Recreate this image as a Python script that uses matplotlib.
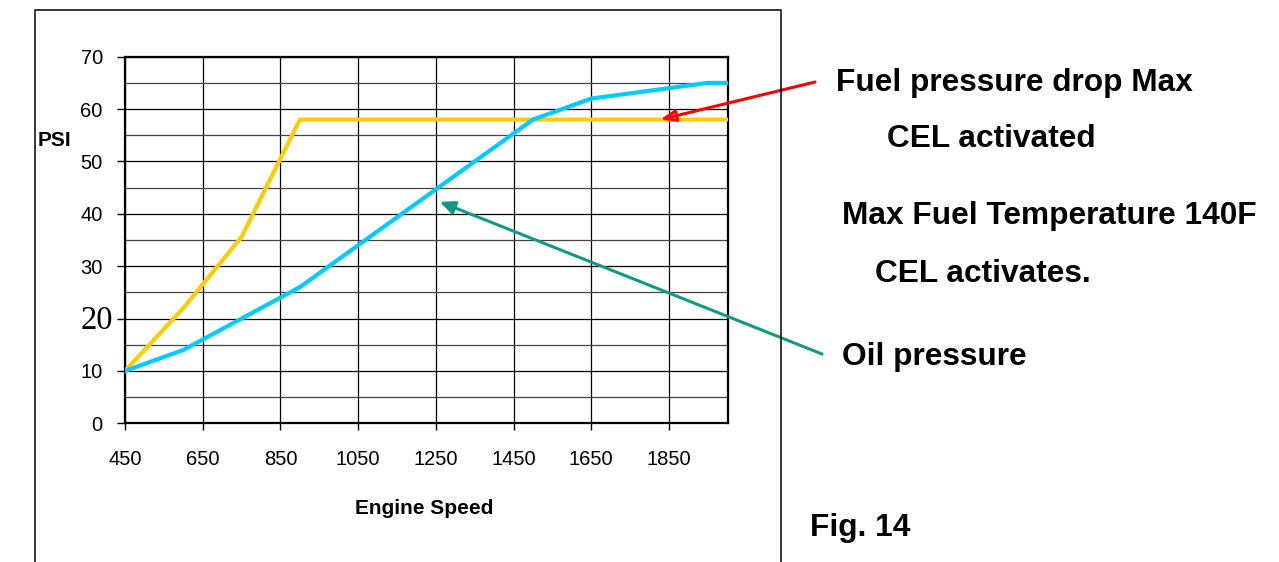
import matplotlib
matplotlib.use("Agg")
import matplotlib.pyplot as plt
from matplotlib.lines import Line2D
from matplotlib.ticker import MultipleLocator

# ---- data ----
fuel_rpm = [450, 600, 750, 900, 2000]
fuel_psi = [10, 22, 35.6, 58, 58]
oil_rpm = [450, 600, 900, 1500, 1650, 1950, 2000]
oil_psi = [10, 14, 26, 58, 62, 65, 65]
x_ticks = [450, 650, 850, 1050, 1250, 1450, 1650, 1850]
y_ticks = [0, 10, 20, 30, 40, 50, 60, 70]
fuel_note_rpm, fuel_note_psi = 1828, 58
oil_note_rpm, oil_note_psi = 1260, 42.3

W, H = 1279, 562
fig = plt.figure(figsize=(W / 100, H / 100), dpi=100)
plt.rcParams['font.family'] = ['Liberation Sans', 'DejaVu Sans']

ax = fig.add_axes([125 / W, 1 - 423.3 / H, (728 - 125) / W, (423.3 - 56.7) / H])
ax.plot(fuel_rpm, fuel_psi, color='#FFCC00', lw=3.0, solid_joinstyle='miter', zorder=3)
ax.plot(oil_rpm, oil_psi, color='#00CCFF', lw=3.0, solid_joinstyle='miter', zorder=3)

ax.set_xlim(450, 2002)
ax.set_ylim(0, 70)
ax.set_xticks(x_ticks)
ax.set_yticks(y_ticks)
ax.yaxis.set_minor_locator(MultipleLocator(5))
ax.grid(which='major', color='black', lw=0.9)
ax.grid(which='minor', axis='y', color='#444444', lw=0.9)
ax.set_axisbelow(True)
for s in ax.spines.values():
    s.set_linewidth(1.6)
    s.set_color('black')
ax.tick_params(axis='y', which='major', length=6, width=1, pad=10, labelsize=14.5)
ax.tick_params(axis='y', which='minor', length=0)
ax.tick_params(axis='x', length=5, width=1, pad=14, labelsize=14.5)
ax.set_xticklabels([str(v) for v in x_ticks])
ylabels = [str(v) for v in y_ticks]
ylabels[2] = ''
ax.set_yticklabels(ylabels)
# the "20" label is drawn in a larger serif face in the original
ax.annotate(str(y_ticks[2]), xy=(0, y_ticks[2]), xycoords=ax.get_yaxis_transform(),
            xytext=(-12, -2), textcoords='offset pixels', ha='right', va='center',
            fontfamily=['Liberation Serif'], fontsize=23.5, annotation_clip=False)

fig.text(54 / W, 1 - 140 / H, 'PSI', fontsize=15, fontweight='bold', ha='center', va='center')
fig.text(424 / W, 1 - 508 / H, 'Engine Speed', fontsize=15, fontweight='bold', ha='center', va='center')

# outer frame
fig.add_artist(Line2D([35 / W, 35 / W, 781 / W, 781 / W], [0, 1 - 9.5 / H, 1 - 9.5 / H, 0],
                      transform=fig.transFigure, color='black', lw=1.1))

# annotations
txt = dict(fontsize=22.8, fontweight='bold', va='center', ha='left')
fig.text(836 / W, 1 - 83 / H, 'Fuel pressure drop Max', **txt)
fig.text(887 / W, 1 - 139 / H, 'CEL activated', **txt)
fig.text(842 / W, 1 - 216 / H, 'Max Fuel Temperature 140F', **txt)
fig.text(875 / W, 1 - 274 / H, 'CEL activates.', **txt)
fig.text(842 / W, 1 - 357 / H, 'Oil pressure', **txt)
fig.text(810 / W, 1 - 528 / H, 'Fig. 14', **txt)

ax.annotate('', xy=(fuel_note_rpm, fuel_note_psi), xycoords='data',
            xytext=(815, H - 82), textcoords='figure pixels',
            arrowprops=dict(arrowstyle='-|>,head_length=0.9,head_width=0.35', color='red',
                            fc='none', lw=2.2, shrinkA=0, shrinkB=0),
            annotation_clip=False, zorder=5)
ax.annotate('', xy=(oil_note_rpm, oil_note_psi), xycoords='data',
            xytext=(822, H - 354), textcoords='figure pixels',
            arrowprops=dict(arrowstyle='-|>,head_length=0.9,head_width=0.4', color='#119988',
                            lw=2.2, shrinkA=0, shrinkB=0),
            annotation_clip=False, zorder=5)

fig.savefig('out.png', dpi=100)
